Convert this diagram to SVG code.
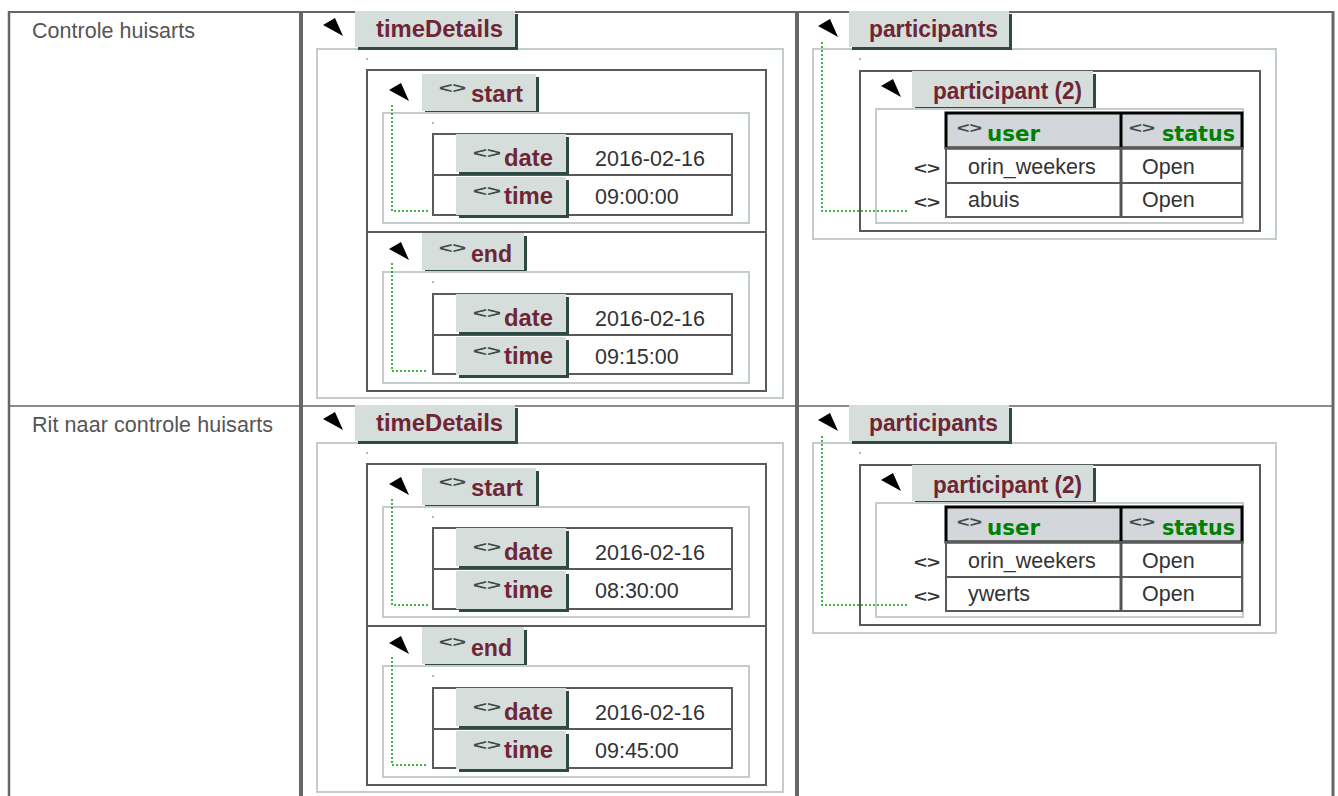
<svg xmlns="http://www.w3.org/2000/svg" xmlns:xlink="http://www.w3.org/1999/xlink" width="1338" height="796" viewBox="0 0 1338 796">
<style>
.tab{fill:#d6dedc}
.sh{fill:#2f4a45}
.lbl{font-family:"Liberation Sans",Arial,sans-serif;font-weight:bold;font-size:23px;fill:#6e2636}
.ic{font-family:"Liberation Sans",Arial,sans-serif;font-weight:bold;font-size:15px;fill:#3d4a47}
.rm{font-family:"Liberation Sans",Arial,sans-serif;font-weight:bold;font-size:17px;fill:#333}
.val{font-family:"Liberation Sans",Arial,sans-serif;font-size:21.5px;fill:#333}
.cell{font-family:"Liberation Sans",Arial,sans-serif;font-size:21.5px;fill:#555}
.hdr{font-family:"DejaVu Sans",Verdana,sans-serif;font-weight:bold;font-size:22px;fill:#008000}
.lite{fill:none;stroke:#c5cccc;stroke-width:2}
.dark{fill:none;stroke:#5a5a5a;stroke-width:2}
.dot{fill:#b0b8b8}
.conn{fill:none;stroke:#00a000;stroke-width:1.5;stroke-dasharray:2 2}
.grid{fill:none;stroke:#666}
</style>
<defs>
<path id="tri" d="M0,7 L12,0 L20,18 L11,13 Z" fill="#000"/>
</defs>
<rect width="1338" height="796" fill="#fff"/>

<g id="grid">
<line class="grid" x1="9" y1="12" x2="1334" y2="12" stroke-width="2" stroke="#7a7a7a"/>
<line class="grid" x1="9" y1="406" x2="1333" y2="406" stroke-width="1.5"/>
<line class="grid" x1="9" y1="11" x2="9" y2="796" stroke-width="2.5" stroke="#777"/>
<line class="grid" x1="301" y1="11" x2="301" y2="796" stroke-width="4" stroke="#555"/>
<line class="grid" x1="797" y1="11" x2="797" y2="796" stroke-width="4" stroke="#555"/>
<line class="grid" x1="1333" y1="11" x2="1333" y2="796" stroke-width="3" stroke="#555"/>
</g>

<g id="row1-label"><text class="cell" x="32" y="38" textLength="163">Controle huisarts</text></g>
<g id="row2-label"><text class="cell" x="32" y="432" textLength="241">Rit naar controle huisarts</text></g>

<!-- ROW 1 -->
<g id="r1-timeDetails">
<rect class="lite" x="317" y="49" width="466" height="349"/>
<rect class="dot" x="366" y="58" width="2" height="2"/>
<use xlink:href="#tri" x="323" y="18"/>
<rect class="sh" x="358" y="14" width="160" height="36"/><rect class="tab" x="355" y="11" width="160" height="36"/>
<text class="lbl" x="376" y="37" textLength="127" lengthAdjust="spacingAndGlyphs">timeDetails</text>
<rect class="dark" x="367" y="70" width="399" height="321"/>
<line class="dark" x1="367" y1="232" x2="766" y2="232"/>
</g>
<g id="r1-start">
<use xlink:href="#tri" x="389" y="83"/>
<rect class="sh" x="425" y="77" width="114" height="37"/><rect class="tab" x="422" y="74" width="114" height="37"/>
<text class="ic" x="439" y="93" textLength="27" lengthAdjust="spacingAndGlyphs">&lt;&gt;</text>
<text class="lbl" x="471" y="102" textLength="52" lengthAdjust="spacingAndGlyphs">start</text>
<rect class="lite" x="383" y="113" width="366" height="110"/>
<rect class="dot" x="432" y="122" width="2" height="2"/>
<rect class="dark" x="433" y="134" width="299" height="81"/>
<line class="dark" x1="433" y1="175" x2="732" y2="175"/>
</g>
<g id="r1-start-date">
<rect class="sh" x="459" y="137" width="110" height="38"/><rect class="tab" x="456" y="134" width="110" height="38"/>
<text class="ic" x="473" y="158" textLength="28" lengthAdjust="spacingAndGlyphs">&lt;&gt;</text>
<text class="lbl" x="504" y="166" textLength="49" lengthAdjust="spacingAndGlyphs">date</text>
<text class="val" x="595" y="166">2016-02-16</text>
</g>
<g id="r1-start-time">
<rect class="sh" x="459" y="180" width="110" height="38"/><rect class="tab" x="456" y="177" width="110" height="38"/>
<text class="ic" x="473" y="196" textLength="28" lengthAdjust="spacingAndGlyphs">&lt;&gt;</text>
<text class="lbl" x="504" y="204" textLength="49" lengthAdjust="spacingAndGlyphs">time</text>
<text class="val" x="595" y="204">09:00:00</text>
</g>
<g id="r1-end">
<use xlink:href="#tri" x="389" y="242"/>
<rect class="sh" x="425" y="236" width="102" height="37"/><rect class="tab" x="422" y="233" width="102" height="37"/>
<text class="ic" x="439" y="253" textLength="27" lengthAdjust="spacingAndGlyphs">&lt;&gt;</text>
<text class="lbl" x="471" y="262" textLength="41" lengthAdjust="spacingAndGlyphs">end</text>
<rect class="lite" x="383" y="272" width="366" height="111"/>
<rect class="dot" x="432" y="281" width="2" height="2"/>
<rect class="dark" x="433" y="294" width="299" height="80"/>
<line class="dark" x1="433" y1="335" x2="732" y2="335"/>
</g>
<g id="r1-end-date">
<rect class="sh" x="459" y="297" width="110" height="38"/><rect class="tab" x="456" y="294" width="110" height="38"/>
<text class="ic" x="473" y="318" textLength="28" lengthAdjust="spacingAndGlyphs">&lt;&gt;</text>
<text class="lbl" x="504" y="326" textLength="49" lengthAdjust="spacingAndGlyphs">date</text>
<text class="val" x="595" y="326">2016-02-16</text>
</g>
<g id="r1-end-time">
<rect class="sh" x="459" y="340" width="110" height="38"/><rect class="tab" x="456" y="337" width="110" height="38"/>
<text class="ic" x="473" y="356" textLength="28" lengthAdjust="spacingAndGlyphs">&lt;&gt;</text>
<text class="lbl" x="504" y="364" textLength="49" lengthAdjust="spacingAndGlyphs">time</text>
<text class="val" x="595" y="364">09:15:00</text>
</g>
<g id="r1-participants">
<rect class="lite" x="813" y="49" width="463" height="190"/>
<rect class="dot" x="859" y="58" width="2" height="2"/>
<use xlink:href="#tri" x="818" y="19"/>
<rect class="sh" x="852" y="14" width="160" height="36"/><rect class="tab" x="849" y="11" width="160" height="36"/>
<text class="lbl" x="869" y="37" textLength="129" lengthAdjust="spacingAndGlyphs">participants</text>
</g>
<g id="r1-participant">
<rect class="dark" x="860" y="71" width="400" height="160"/>
<use xlink:href="#tri" x="881" y="79"/>
<rect class="sh" x="915" y="74" width="181" height="36"/><rect class="tab" x="912" y="71" width="181" height="36"/>
<text class="lbl" x="933" y="99" textLength="149" lengthAdjust="spacingAndGlyphs">participant (2)</text>
<rect class="lite" x="876" y="109" width="367" height="114"/>
<rect x="946" y="113" width="296" height="35" fill="#d3d7db" stroke="#000" stroke-width="3"/>
<line x1="1121" y1="113" x2="1121" y2="148" stroke="#000" stroke-width="3"/>
<text class="ic" x="957" y="133" textLength="25" lengthAdjust="spacingAndGlyphs">&lt;&gt;</text>
<text class="hdr" x="987" y="141" textLength="53" lengthAdjust="spacingAndGlyphs">user</text>
<text class="ic" x="1129" y="133" textLength="26" lengthAdjust="spacingAndGlyphs">&lt;&gt;</text>
<text class="hdr" x="1162" y="141" textLength="73" lengthAdjust="spacingAndGlyphs">status</text>
<rect class="dark" x="946" y="148" width="296" height="69"/>
<line class="dark" x1="946" y1="183" x2="1242" y2="183"/>
<line x1="1121" y1="148" x2="1121" y2="217" stroke="#555" stroke-width="3"/>
<text class="rm" x="914" y="174" textLength="26" lengthAdjust="spacingAndGlyphs">&lt;&gt;</text>
<text class="val" x="968" y="174">orin_weekers</text>
<text class="val" x="1142" y="174">Open</text>
<text class="rm" x="914" y="208" textLength="26" lengthAdjust="spacingAndGlyphs">&lt;&gt;</text>
<text class="val" x="968" y="207">abuis</text>
<text class="val" x="1142" y="207">Open</text>
</g>

<!-- ROW 2 -->
<g transform="translate(0,394)">
<g id="r2-timeDetails">
<rect class="lite" x="317" y="49" width="466" height="349"/>
<rect class="dot" x="366" y="58" width="2" height="2"/>
<use xlink:href="#tri" x="323" y="18"/>
<rect class="sh" x="358" y="14" width="160" height="36"/><rect class="tab" x="355" y="11" width="160" height="36"/>
<text class="lbl" x="376" y="37" textLength="127" lengthAdjust="spacingAndGlyphs">timeDetails</text>
<rect class="dark" x="367" y="70" width="399" height="321"/>
<line class="dark" x1="367" y1="232" x2="766" y2="232"/>
</g>
<g id="r2-start">
<use xlink:href="#tri" x="389" y="83"/>
<rect class="sh" x="425" y="77" width="114" height="37"/><rect class="tab" x="422" y="74" width="114" height="37"/>
<text class="ic" x="439" y="93" textLength="27" lengthAdjust="spacingAndGlyphs">&lt;&gt;</text>
<text class="lbl" x="471" y="102" textLength="52" lengthAdjust="spacingAndGlyphs">start</text>
<rect class="lite" x="383" y="113" width="366" height="110"/>
<rect class="dot" x="432" y="122" width="2" height="2"/>
<rect class="dark" x="433" y="134" width="299" height="81"/>
<line class="dark" x1="433" y1="175" x2="732" y2="175"/>
</g>
<g id="r2-start-date">
<rect class="sh" x="459" y="137" width="110" height="38"/><rect class="tab" x="456" y="134" width="110" height="38"/>
<text class="ic" x="473" y="158" textLength="28" lengthAdjust="spacingAndGlyphs">&lt;&gt;</text>
<text class="lbl" x="504" y="166" textLength="49" lengthAdjust="spacingAndGlyphs">date</text>
<text class="val" x="595" y="166">2016-02-16</text>
</g>
<g id="r2-start-time">
<rect class="sh" x="459" y="180" width="110" height="38"/><rect class="tab" x="456" y="177" width="110" height="38"/>
<text class="ic" x="473" y="196" textLength="28" lengthAdjust="spacingAndGlyphs">&lt;&gt;</text>
<text class="lbl" x="504" y="204" textLength="49" lengthAdjust="spacingAndGlyphs">time</text>
<text class="val" x="595" y="204">08:30:00</text>
</g>
<g id="r2-end">
<use xlink:href="#tri" x="389" y="242"/>
<rect class="sh" x="425" y="236" width="102" height="37"/><rect class="tab" x="422" y="233" width="102" height="37"/>
<text class="ic" x="439" y="253" textLength="27" lengthAdjust="spacingAndGlyphs">&lt;&gt;</text>
<text class="lbl" x="471" y="262" textLength="41" lengthAdjust="spacingAndGlyphs">end</text>
<rect class="lite" x="383" y="272" width="366" height="111"/>
<rect class="dot" x="432" y="281" width="2" height="2"/>
<rect class="dark" x="433" y="294" width="299" height="80"/>
<line class="dark" x1="433" y1="335" x2="732" y2="335"/>
</g>
<g id="r2-end-date">
<rect class="sh" x="459" y="297" width="110" height="38"/><rect class="tab" x="456" y="294" width="110" height="38"/>
<text class="ic" x="473" y="318" textLength="28" lengthAdjust="spacingAndGlyphs">&lt;&gt;</text>
<text class="lbl" x="504" y="326" textLength="49" lengthAdjust="spacingAndGlyphs">date</text>
<text class="val" x="595" y="326">2016-02-16</text>
</g>
<g id="r2-end-time">
<rect class="sh" x="459" y="340" width="110" height="38"/><rect class="tab" x="456" y="337" width="110" height="38"/>
<text class="ic" x="473" y="356" textLength="28" lengthAdjust="spacingAndGlyphs">&lt;&gt;</text>
<text class="lbl" x="504" y="364" textLength="49" lengthAdjust="spacingAndGlyphs">time</text>
<text class="val" x="595" y="364">09:45:00</text>
</g>
<g id="r2-participants">
<rect class="lite" x="813" y="49" width="463" height="190"/>
<rect class="dot" x="859" y="58" width="2" height="2"/>
<use xlink:href="#tri" x="818" y="19"/>
<rect class="sh" x="852" y="14" width="160" height="36"/><rect class="tab" x="849" y="11" width="160" height="36"/>
<text class="lbl" x="869" y="37" textLength="129" lengthAdjust="spacingAndGlyphs">participants</text>
</g>
<g id="r2-participant">
<rect class="dark" x="860" y="71" width="400" height="160"/>
<use xlink:href="#tri" x="881" y="79"/>
<rect class="sh" x="915" y="74" width="181" height="36"/><rect class="tab" x="912" y="71" width="181" height="36"/>
<text class="lbl" x="933" y="99" textLength="149" lengthAdjust="spacingAndGlyphs">participant (2)</text>
<rect class="lite" x="876" y="109" width="367" height="114"/>
<rect x="946" y="113" width="296" height="35" fill="#d3d7db" stroke="#000" stroke-width="3"/>
<line x1="1121" y1="113" x2="1121" y2="148" stroke="#000" stroke-width="3"/>
<text class="ic" x="957" y="133" textLength="25" lengthAdjust="spacingAndGlyphs">&lt;&gt;</text>
<text class="hdr" x="987" y="141" textLength="53" lengthAdjust="spacingAndGlyphs">user</text>
<text class="ic" x="1129" y="133" textLength="26" lengthAdjust="spacingAndGlyphs">&lt;&gt;</text>
<text class="hdr" x="1162" y="141" textLength="73" lengthAdjust="spacingAndGlyphs">status</text>
<rect class="dark" x="946" y="148" width="296" height="69"/>
<line class="dark" x1="946" y1="183" x2="1242" y2="183"/>
<line x1="1121" y1="148" x2="1121" y2="217" stroke="#555" stroke-width="3"/>
<text class="rm" x="914" y="174" textLength="26" lengthAdjust="spacingAndGlyphs">&lt;&gt;</text>
<text class="val" x="968" y="174">orin_weekers</text>
<text class="val" x="1142" y="174">Open</text>
<text class="rm" x="914" y="208" textLength="26" lengthAdjust="spacingAndGlyphs">&lt;&gt;</text>
<text class="val" x="968" y="207">ywerts</text>
<text class="val" x="1142" y="207">Open</text>
</g>
</g>

<g id="connectors">
<path class="conn" d="M392,105 V211 H428"/>
<path class="conn" d="M392,263 V371 H428"/>
<path class="conn" d="M822,42 V211 H907"/>
<path class="conn" d="M392,499 V605 H428"/>
<path class="conn" d="M392,657 V765 H428"/>
<path class="conn" d="M822,436 V605 H907"/>
</g>
</svg>
